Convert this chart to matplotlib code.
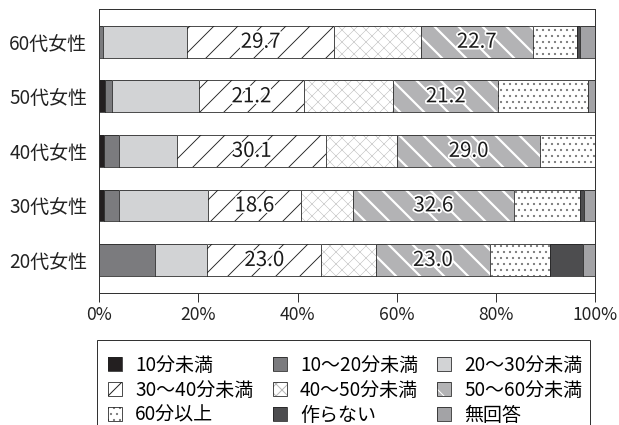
import matplotlib
matplotlib.use("Agg")
import matplotlib.pyplot as plt
import matplotlib.patheffects as pe
from matplotlib.patches import Rectangle
from matplotlib.legend_handler import HandlerTuple

plt.rcParams['font.family'] = ['Noto Sans CJK JP', 'DejaVu Sans']

# 年代（下から順）
rows = ['20代女性', '30代女性', '40代女性', '50代女性', '60代女性']

# 各区分の割合（%）、rows と同じ順
v_10 = [0.0, 0.9, 0.9, 1.2, 0.0]
v_10_20 = [11.2, 3.1, 3.0, 1.3, 0.7]
v_20_30 = [10.6, 18.0, 11.8, 17.6, 17.0]
v_30_40 = [23.0, 18.6, 30.1, 21.2, 29.7]
v_40_50 = [11.0, 10.5, 14.2, 18.0, 17.4]
v_50_60 = [23.0, 32.6, 29.0, 21.2, 22.7]
v_60 = [12.1, 13.2, 11.0, 18.0, 8.9]
v_none = [6.6, 0.8, 0.0, 0.0, 0.6]
v_na = [2.5, 2.3, 0.0, 1.5, 3.0]

labels = ['10分未満', '10〜20分未満', '20〜30分未満',
          '30〜40分未満', '40〜50分未満', '50〜60分未満',
          '60分以上', '作らない', '無回答']
series = [v_10, v_10_20, v_20_30, v_30_40, v_40_50, v_50_60, v_60, v_none, v_na]

# 塗り・ハッチの設定 (塗り色, ハッチ, ハッチ色, ハッチ線幅)
styles = [
    ('#231f20', None, None, 1.0),
    ('#7b7b7e', None, None, 1.0),
    ('#d2d3d5', None, None, 1.0),
    ('white', '/', '#222222', 0.9),
    ('white', 'xx', '#b8b8b8', 0.5),
    ('#b3b3b5', '\\', 'white', 2.2),
    ('white', '..', '#7a7a7a', 1.0),
    ('#4d4d4f', None, None, 1.0),
    ('#a3a3a6', None, None, 1.0),
]

fig = plt.figure(figsize=(619 / 72, 425 / 72), dpi=72)
ax = fig.add_axes([99.3 / 619, 1 - 292.7 / 425, (595 - 99.3) / 619, (292.7 - 9) / 425])

ypos = list(range(len(rows)))
left = [0.0] * len(rows)
containers = []
handles = []
for vals, lab, (fc, hatch, hc, hlw) in zip(series, labels, styles):
    # 塗り → ハッチ → 枠線 の順に重ねる
    fill = ax.barh(ypos, vals, left=left, height=0.58, color=fc, linewidth=0)
    parts = [fill.patches[0]]
    if hatch:
        with plt.rc_context({'hatch.linewidth': hlw}):
            hb = ax.barh(ypos, vals, left=left, height=0.58, facecolor='none',
                         edgecolor=hc, linewidth=0, hatch=hatch)
        parts.append(hb.patches[0])
    outline = ax.barh(ypos, vals, left=left, height=0.58, facecolor='none',
                      edgecolor='#222222', linewidth=0.8)
    parts.append(outline.patches[0])
    containers.append(fill)
    handles.append(tuple(parts))
    left = [a + b for a, b in zip(left, vals)]

# 30〜40分未満 と 50〜60分未満 に数値を表示
for idx in (3, 5):
    ax.bar_label(containers[idx], fmt='%.1f', label_type='center', fontsize=20.5,
                 color='#1a1a1a',
                 path_effects=[pe.withStroke(linewidth=3.5, foreground='white')])

ax.set_xlim(0, 100)
ax.set_ylim(-0.6, 4.6)
ax.set_yticks(ypos)
ax.set_yticklabels(rows, fontsize=19, color='#222222')
ax.set_xticks([0, 20, 40, 60, 80, 100])
ax.set_xticklabels(['0%', '20%', '40%', '60%', '80%', '100%'], fontsize=17.5, color='#222222')
ax.tick_params(axis='y', length=0, pad=12)
ax.tick_params(axis='x', length=9, width=1, color='#333333', pad=4)
for s in ax.spines.values():
    s.set_color('#333333')
    s.set_linewidth(1)

# 凡例（横方向に並べる）
order = [0, 3, 6, 1, 4, 7, 2, 5, 8]
h = [handles[i] for i in order]
l = [labels[i] for i in order]
fig.legend(h, l, ncol=3, loc='upper left', bbox_to_anchor=(108 / 619, 1 - 355 / 425),
           frameon=False, fontsize=19, handlelength=0.74, handleheight=0.74,
           handletextpad=0.7, columnspacing=1.0, labelspacing=0.2,
           borderpad=0, borderaxespad=0,
           handler_map={tuple: HandlerTuple(ndivide=1, pad=0)})
fig.add_artist(Rectangle((97 / 619, -0.05), (590 - 97) / 619, 1 - 340 / 425 + 0.05,
                         transform=fig.transFigure, fill=False, lw=1, ec='#333333'))

fig.savefig('out.png', dpi=72)
